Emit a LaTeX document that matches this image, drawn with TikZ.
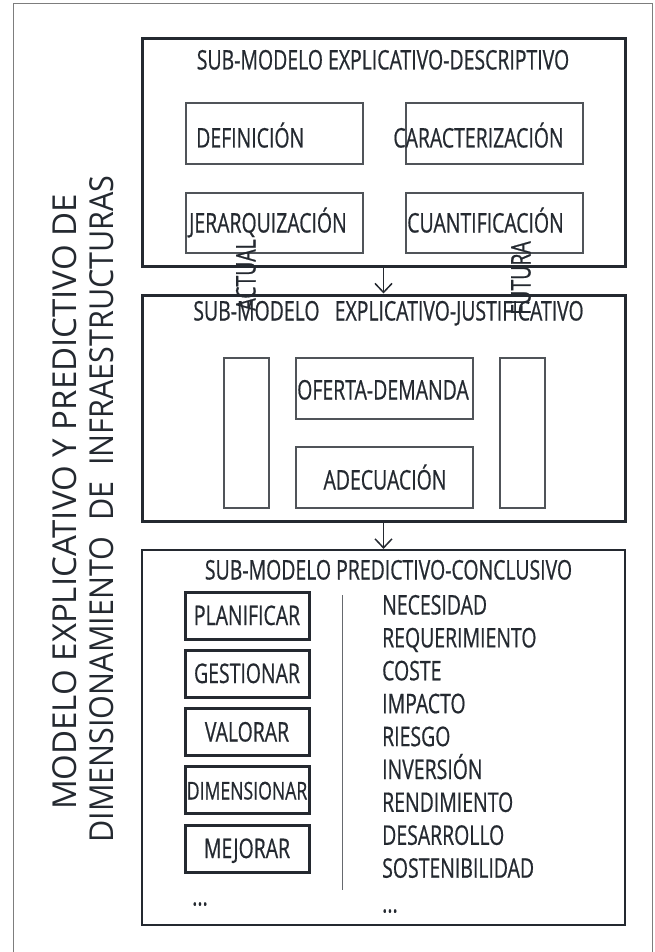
\documentclass[tikz,border=0pt]{standalone}
\usepackage{fontspec}
\usepackage{tikz}
\usetikzlibrary{arrows.meta,positioning}
\newfontfamily\narrowfont[FakeStretch=0.72,FakeBold=0.6]{Open Sans}
\newfontfamily\sidefont[FakeStretch=1.0]{Open Sans}
\newfontfamily\sidefontb[FakeStretch=0.925]{Open Sans}
\definecolor{ink}{RGB}{36,41,48}
\definecolor{framegray}{RGB}{125,125,125}
\tikzset{
    %Define standard arrow tip
    >={Straight Barb[length=9pt,width=17pt,line width=1.5pt]},
    %Define style for the sub-model boxes
    submodel/.style={
           rectangle,
           draw=ink, line width=3pt,
           inner sep=0pt,
           minimum width=483pt},
    %Define style for the inner boxes
    innerbox/.style={
           rectangle,
           draw=ink!80, line width=2pt,
           inner sep=0pt,
           minimum width=177pt,
           minimum height=61pt},
    tallbox/.style={
           rectangle,
           draw=ink!80, line width=2pt,
           inner sep=0pt,
           minimum width=45pt,
           minimum height=150pt},
    actbox/.style={
           rectangle,
           draw=ink, line width=3pt,
           inner sep=0pt,
           minimum width=124pt,
           minimum height=47pt,
           text=ink,
           font=\narrowfont\fontsize{27}{32}\selectfont,
           text height=19pt, text depth=0pt},
    % Define text styles
    word/.style={
           inner sep=0pt,
           text=ink,
           font=\narrowfont\fontsize{27}{32}\selectfont,
           text height=19pt, text depth=0pt},
    listword/.style={
           word,
           minimum height=32.5pt},
    sidetitle/.style={
           inner sep=0pt,
           text=ink,
           font=\sidefont\fontsize{33}{38}\selectfont,
           text height=24pt, text depth=0pt},
    % Define arrow style
    pil/.style={
           ->,
           draw=ink,
           line width=1.5pt}
}
\begin{document}
\begin{tikzpicture}[x=1pt,y=-1pt]
\useasboundingbox (0,0) rectangle (655,952);

 % frame
\draw[framegray, line width=1pt] (13,952) -- (13,4) -- (652,4) -- (652,952);

 % side title
\node[sidetitle, rotate=90] (title1) at (64,502) {MODELO EXPLICATIVO Y PREDICTIVO DE};
\node[sidetitle, rotate=90, font=\sidefontb\fontsize{33}{38}\selectfont] (title2) at (101,509) {DIMENSIONAMIENTO\ \ DE\ \ INFRAESTRUCTURAS};

 % sub-model 1
\node[submodel, minimum height=227pt] (desc) at (383.5,152.5) {};
\node[word] (desctitle) at (383,60) {SUB-MODELO EXPLICATIVO-DESCRIPTIVO};
\node[innerbox] (defbox) at (274.5,133.5) {};
\node[word, anchor=west] (deftext) at (196,138) {DEFINICIÓN};
\node[innerbox] (carbox) at (494.5,133.5) {};
\node[word] (cartext) at (478.5,138) {CARACTERIZACIÓN};
\node[innerbox, minimum height=60pt] (jerbox) at (274.5,223) {};
\node[word, anchor=west] (jertext) at (189,223) {JERARQUIZACIÓN};
\node[innerbox, minimum height=60pt] (cuabox) at (494.5,223) {};
\node[word] (cuatext) at (485.5,223) {CUANTIFICACIÓN};

 % sub-model 2
\node[submodel, minimum height=226pt] (just) at (383.5,408) {};
\node[tallbox] (actbox) at (246.5,433) {};
\node[tallbox] (futbox) at (522,433) {};
\node[word, rotate=90] (acttext) at (246,275) {ACTUAL};
\node[word, rotate=90] (futtext) at (521,278) {FUTURA};
\node[word] (justtitle) at (388.5,311) {SUB-MODELO\ \ \ EXPLICATIVO-JUSTIFICATIVO};
\node[innerbox] (ofbox) at (384.5,388.5) {};
\node[word] (oftext) at (383,390) {OFERTA-DEMANDA};
\node[innerbox] (adbox) at (384.5,477.5) {};
\node[word] (adtext) at (385,480) {ADECUACIÓN};

 % sub-model 3
\node[submodel, minimum height=375pt, line width=2.2pt] (pred) at (383.5,737.5) {};
\node[word] (predtitle) at (388.5,570) {SUB-MODELO PREDICTIVO-CONCLUSIVO};
\node[actbox] (plan) at (247,615.5) {PLANIFICAR};
\node[actbox] (gest) at (247,673.5) {GESTIONAR};
\node[actbox] (val) at (247,732) {VALORAR};
\node[actbox, font=\narrowfont\fontsize{24.5}{30}\selectfont] (dim) at (247,790) {DIMENSIONAR};
\node[actbox] (mej) at (247,848.5) {MEJORAR};
\node[word] (actdots) at (200,896) {...};
\coordinate (septop) at (342,595);
\coordinate (sepbot) at (342,890);
\draw[ink!70, line width=1pt] (septop) -- (sepbot);

\node[listword, anchor=west] (nec) at (382,605) {NECESIDAD};
\node[listword, below=0pt of nec.south west, anchor=north west] (req) {REQUERIMIENTO};
\node[listword, below=0pt of req.south west, anchor=north west] (cos) {COSTE};
\node[listword, below=0pt of cos.south west, anchor=north west] (imp) {IMPACTO};
\node[listword, below=0pt of imp.south west, anchor=north west] (rie) {RIESGO};
\node[listword, below=0pt of rie.south west, anchor=north west] (inv) {INVERSIÓN};
\node[listword, below=0pt of inv.south west, anchor=north west] (ren) {RENDIMIENTO};
\node[listword, below=0pt of ren.south west, anchor=north west] (des) {DESARROLLO};
\node[listword, below=0pt of des.south west, anchor=north west] (sos) {SOSTENIBILIDAD};
\node[word, anchor=west] (listdots) at (382,903) {...};

 % arrows
\path[pil]
    (desc) edge (just)
    (just) edge (pred);

\end{tikzpicture}
\end{document}
